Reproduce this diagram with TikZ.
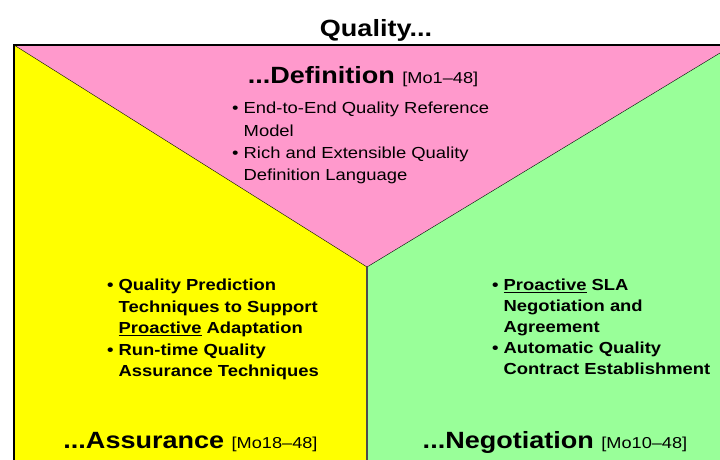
\documentclass[tikz,border=0pt]{standalone}
\usepackage{fontspec}
\setmainfont{Liberation Sans}[FakeStretch=1.15]
\usetikzlibrary{positioning}
\definecolor{defpink}{RGB}{255,153,204}
\definecolor{assyellow}{RGB}{255,255,0}
\definecolor{neggreen}{RGB}{153,255,153}
\newcommand{\bul}{\makebox[11.5pt][l]{\textbullet}}
\newcommand{\ind}{\hspace*{11.5pt}}
\newcommand{\months}[1]{\textnormal{\fontsize{15.8}{16}\selectfont[#1]}}

\begin{document}
\begin{tikzpicture}
  [x=1pt,y=-1pt,every node/.style={inner sep=0pt}]
  \tikzstyle{head}=[anchor=base,font=\fontsize{23.5}{24}\selectfont\bfseries]
  \tikzstyle{items}=[anchor=north west,align=left,font=\fontsize{16}{21.5}\selectfont]
  \useasboundingbox (0,0) rectangle (720,460);
  % the three regions
  \fill[defpink] (14,45) -- (720,45) -- (720,53) -- (367,267) -- cycle;
  \fill[assyellow] (14,45) -- (367,267) -- (367,460) -- (14,460) -- cycle;
  \fill[neggreen] (367,267) -- (720,53) -- (720,460) -- (367,460) -- cycle;
  \draw[thin] (14,45) -- (367,267) -- (720,53);
  \draw[line width=1.5pt,black!70] (367,267) -- (367,460);
  \draw[line width=2pt] (14,460) -- (14,45) -- (720,45);

  \node[head] (title) at (376,37) {Quality...};
  \node[head] (def) at (363,84) {...Definition \months{Mo1–48}};
  \node[head] (ass) at (190.5,448) {...Assurance \months{Mo18–48}};
  \node[head] (neg) at (555,448) {...Negotiation \months{Mo10–48}};

  \node[items,font=\fontsize{16}{22.4}\selectfont] (defitems) at (232,102)
    {\bul End-to-End Quality Reference\\
    \ind Model\\
    \bul Rich and Extensible Quality\\
    \ind Definition Language};
  \node[items,font=\fontsize{16}{21.5}\selectfont\bfseries] (assitems) at (107,279)
    {\bul Quality Prediction\\
    \ind Techniques to Support\\
    \ind \underline{Proactive} Adaptation\\
    \bul Run-time Quality\\
    \ind Assurance Techniques};
  \node[items,font=\fontsize{16}{21}\selectfont\bfseries] (negitems) at (492,279)
    {\bul \underline{Proactive} SLA\\
    \ind Negotiation and\\
    \ind Agreement\\
    \bul Automatic Quality\\
    \ind Contract Establishment};
\end{tikzpicture}
\end{document}
